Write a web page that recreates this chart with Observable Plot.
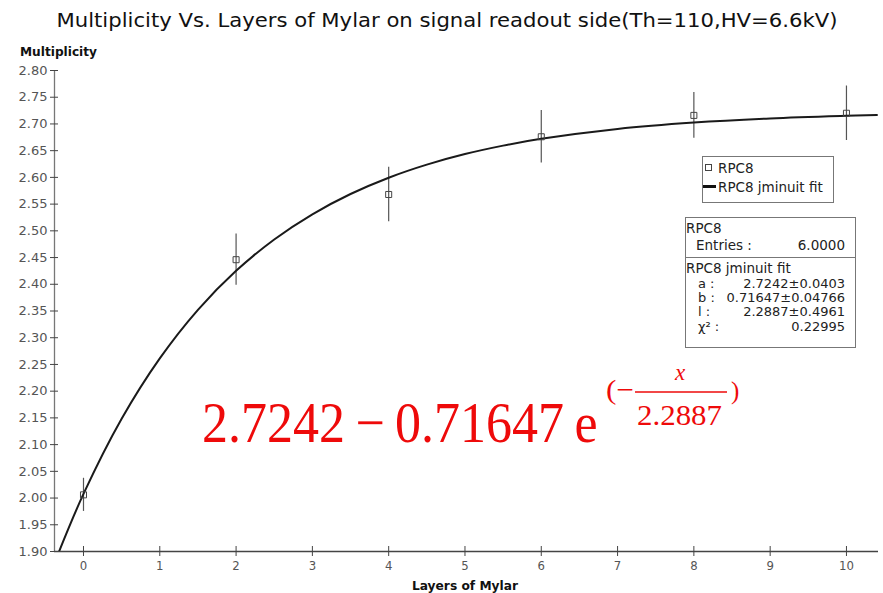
<!DOCTYPE html>
<html><head><meta charset="utf-8">
<script src="https://cdn.jsdelivr.net/npm/d3@7"></script>
<script src="https://cdn.jsdelivr.net/npm/@observablehq/plot@0.6"></script>
<style>
body{margin:0;background:#fff;}
#wrap{position:relative;width:883px;height:593px;overflow:hidden;background:#fff;}
#title{display:block;}
#chart svg{display:block;}
#ov{position:absolute;left:0;top:0;pointer-events:none;}
</style></head><body>
<div id="wrap">
<svg id="title" width="883" height="34"><text x="447" y="27" text-anchor="middle" font-family="DejaVu Sans Condensed" font-size="19" fill="#111" textLength="781" lengthAdjust="spacingAndGlyphs">Multiplicity Vs. Layers of Mylar on signal readout side(Th=110,HV=6.6kV)</text></svg>
<div id="chart"></div>
<svg id="ov" width="883" height="593"></svg>
</div>
<script>
// Data
const layers = [0, 2, 4, 6, 8, 10];
const multiplicity = [2.006, 2.446, 2.568, 2.676, 2.716, 2.720];
const errors = [0.031, 0.048, 0.051, 0.049, 0.043, 0.051];
// Points along the drawn fit curve
const fitX = [-0.32, 0, 0.5, 1, 1.5, 2, 2.5, 3, 3.5, 4, 4.5, 5, 5.5, 6, 7, 8, 9, 10, 10.4];
const fitY = [1.900, 2.0077, 2.1483, 2.2613, 2.3522, 2.4252, 2.4839, 2.5310, 2.5689, 2.5994, 2.6239, 2.6436, 2.6594, 2.6721, 2.6906, 2.7025, 2.7102, 2.7151, 2.7166];
const yTicks = [1.90, 1.95, 2.00, 2.05, 2.10, 2.15, 2.20, 2.25, 2.30, 2.35, 2.40, 2.45, 2.50, 2.55, 2.60, 2.65, 2.70, 2.75, 2.80];
const xTicks = [0, 1, 2, 3, 4, 5, 6, 7, 8, 9, 10];
const xDomain = [-0.38, 10.42];
const yDomain = [1.90, 2.80];
const seriesName = "RPC8";
const fitName = "RPC8 jminuit fit";
const entries = "6.0000";
const fitParams = [["a :", "2.7242\u00b10.0403"], ["b :", "0.71647\u00b10.04766"], ["l :", "2.2887\u00b10.4961"], ["\u03c7\u00b2 :", "0.22995"]];

const pts = layers.map((x, i) => ({x, y: multiplicity[i], lo: multiplicity[i] - errors[i], hi: multiplicity[i] + errors[i]}));
const fit = fitX.map((x, i) => ({x, y: fitY[i]}));

const plot = Plot.plot({
  width: 883, height: 559,
  marginTop: 36, marginBottom: 42, marginLeft: 54, marginRight: 5,
  x: {domain: xDomain},
  y: {domain: yDomain},
  style: {background: "white", color: "#555", fontFamily: "DejaVu Sans", overflow: "visible"},
  marks: [
    Plot.ruleX([xDomain[0]], {stroke: "#777", strokeWidth: 1.3}),
    Plot.axisY({ticks: yTicks, tickFormat: d => d.toFixed(2), tickSize: 8, tickPadding: 3, dx: 4, fontSize: 13, label: null, stroke: "#444"}),
    Plot.axisX({ticks: xTicks, tickSize: 10, tickPadding: 4, dy: -5, fontSize: 13, fontFamily: "DejaVu Sans Condensed", label: null, stroke: "#444"}),
    Plot.ruleY([yDomain[0]], {stroke: "#444", strokeWidth: 1.6}),
    Plot.ruleX(pts, {x: "x", y1: "lo", y2: "hi", stroke: "#555", strokeWidth: 1.2}),
    Plot.line(fit, {x: "x", y: "y", stroke: "#1a1a1a", strokeWidth: 2, curve: "catmull-rom", clip: true}),
    Plot.dot(pts, {x: "x", y: "y", symbol: "square", r: 3.4, stroke: "#444", strokeWidth: 1, fill: "none"})
  ]
});
document.getElementById("chart").appendChild(plot);

// Annotations overlay
const ov = d3.select("#ov");
const txt = (x, y, s, o = {}) => {
  const t = ov.append("text").attr("x", x).attr("y", y).text(s)
    .attr("font-family", o.family || "DejaVu Sans")
    .attr("font-size", o.size || 13)
    .attr("fill", o.fill || "#222");
  if (o.anchor) t.attr("text-anchor", o.anchor);
  if (o.weight) t.attr("font-weight", o.weight);
  if (o.style) t.attr("font-style", o.style);
  if (o.len) t.attr("textLength", o.len).attr("lengthAdjust", "spacingAndGlyphs");
  if (o.transform) t.attr("transform", o.transform);
  return t;
};
// axis titles
txt(20, 56, "Multiplicity", {family: "DejaVu Sans Condensed", size: 12, weight: "bold", len: 77, fill: "#111"});
txt(465, 590, "Layers of Mylar", {family: "DejaVu Sans Condensed", size: 13, weight: "bold", anchor: "middle", len: 106, fill: "#111"});

// legend
ov.append("rect").attr("x", 702.5).attr("y", 156.5).attr("width", 131).attr("height", 46).attr("fill", "white").attr("stroke", "#777");
ov.append("rect").attr("x", 705.5).attr("y", 164.5).attr("width", 6).attr("height", 6).attr("fill", "none").attr("stroke", "#444");
txt(718, 173, seriesName, {size: 13.5});
ov.append("rect").attr("x", 703).attr("y", 185).attr("width", 13).attr("height", 3).attr("fill", "#111");
txt(718, 192, fitName, {size: 13.5});

// stats box
ov.append("rect").attr("x", 685.5).attr("y", 217.5).attr("width", 170).attr("height", 130).attr("fill", "white").attr("stroke", "#777");
ov.append("line").attr("x1", 685).attr("x2", 856).attr("y1", 257.5).attr("y2", 257.5).attr("stroke", "#777");
txt(686, 233, seriesName, {size: 13.5});
txt(696, 250, "Entries :", {size: 13.5});
txt(845, 250, entries, {size: 13.5, anchor: "end"});
txt(686, 273, fitName, {size: 13.5});
fitParams.forEach(([k, v], i) => {
  txt(698, 288 + i * 14.2, k, {size: 13});
  txt(845, 288 + i * 14.2, v, {size: 13, anchor: "end"});
});

// red formula
const red = "#ee0a0a";
const serif = "Liberation Serif";
txt(202, 442 / 1.1, "2.7242\u2009\u2212\u20090.71647\u2009e", {family: serif, size: 52, fill: red, transform: "scale(1,1.1)"});
txt(606, 399, "(\u2212", {family: serif, size: 28, fill: red, len: 28});
ov.append("line").attr("x1", 635).attr("x2", 727).attr("y1", 392).attr("y2", 392).attr("stroke", red).attr("stroke-width", 1.6);
txt(680, 380, "x", {family: serif, size: 23, fill: red, style: "italic", anchor: "middle"});
txt(637, 425, "2.2887", {family: serif, size: 29, fill: red, len: 85});
txt(731, 399, ")", {family: serif, size: 25, fill: red});
</script>
</body></html>
